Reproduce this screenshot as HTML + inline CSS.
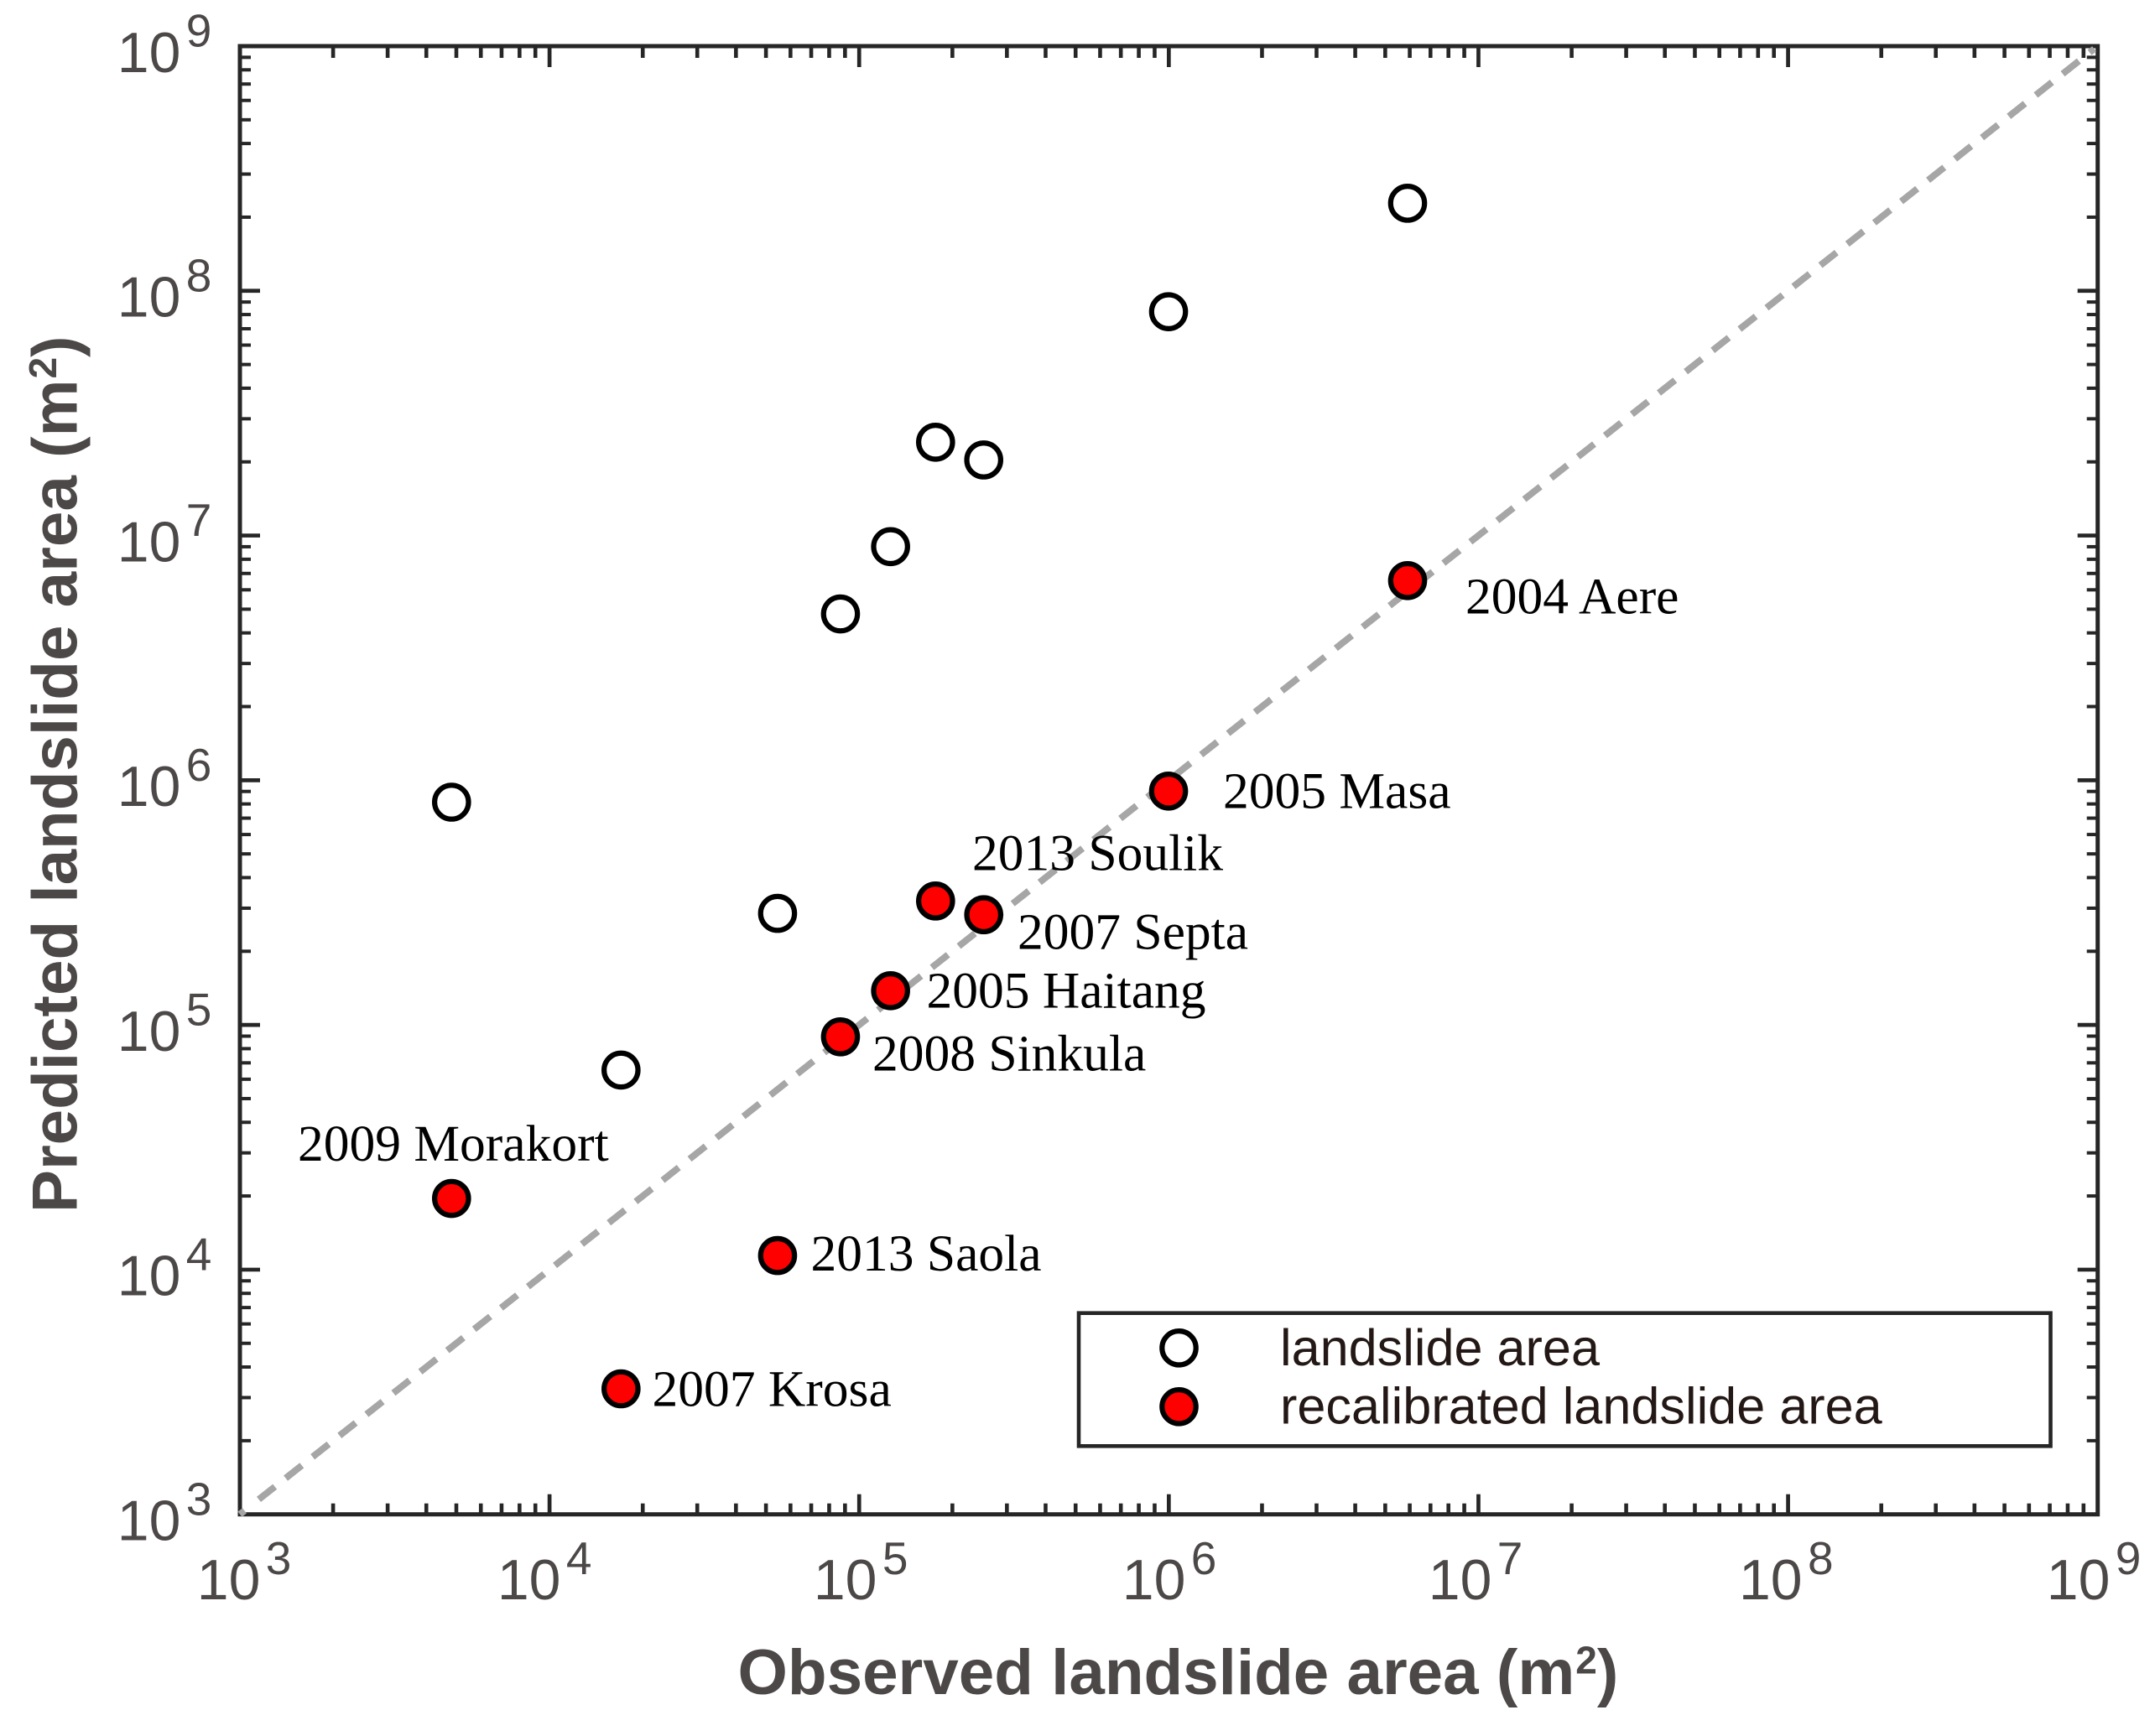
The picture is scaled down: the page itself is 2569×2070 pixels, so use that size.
<!DOCTYPE html>
<html lang="en">
<head>
<meta charset="utf-8">
<title>Observed vs predicted landslide area</title>
<style>
html,body{margin:0;padding:0;background:#fff}
svg{display:block}
.tick-text{font-family:"Liberation Sans",sans-serif;fill:#4d4848}
.axis-title{font-family:"Liberation Sans",sans-serif;font-weight:bold;font-size:76.4px;fill:#4d4848}
.axis-sup{font-size:46px}
.legend-text{font-family:"Liberation Sans",sans-serif;font-size:61.2px;fill:#231815}
.event-label{font-family:"Liberation Serif",serif;font-size:61.5px;fill:#000}
</style>
</head>
<body>
<svg id="chart" xmlns="http://www.w3.org/2000/svg" width="2569" height="2070" viewBox="0 0 2569 2070">
  <rect x="0" y="0" width="2569" height="2070" fill="#fff"/>
  <g id="ticks"></g>
  <rect x="286" y="55" width="2214.7" height="1750.7" fill="none" stroke="#262626" stroke-width="5"/>
  <g id="reference"></g>
  <g id="tick-labels"></g>
  <g id="marks"></g>

  <text class="axis-title" x="879.5" y="2020">Observed landslide area (m<tspan class="axis-sup" dx="1" dy="-24.3">2</tspan><tspan dy="24.3">)</tspan></text>
  <text class="axis-title" transform="translate(91.5,1446) rotate(-90)" x="0" y="0">Predicted landslide area (m<tspan class="axis-sup" dx="1" dy="-24.3">2</tspan><tspan dy="24.3">)</tspan></text>

  <text class="event-label" x="1747" y="731.3">2004 Aere</text>
  <text class="event-label" x="1458" y="963.3">2005 Masa</text>
  <text class="event-label" x="1159" y="1037.3">2013 Soulik</text>
  <text class="event-label" x="1213" y="1131.7">2007 Septa</text>
  <text class="event-label" x="1104.5" y="1201.7">2005 Haitang</text>
  <text class="event-label" x="1040" y="1276.7">2008 Sinkula</text>
  <text class="event-label" x="355" y="1384">2009 Morakort</text>
  <text class="event-label" x="966.5" y="1515">2013 Saola</text>
  <text class="event-label" x="777.5" y="1676.7">2007 Krosa</text>

  <g>
    <rect x="1286" y="1565.7" width="1158.5" height="158.6" fill="#fff" stroke="#262626" stroke-width="4.6"/>
    <circle cx="1405.5" cy="1607.3" r="20.2" fill="#fff" stroke="#000" stroke-width="6.2"/>
    <text class="legend-text" x="1526" y="1628">landslide area</text>
    <circle cx="1405.5" cy="1677.3" r="20.2" fill="#ff0000" stroke="#000" stroke-width="6.2"/>
    <text class="legend-text" x="1526" y="1697.7">recalibrated landslide area</text>
  </g>
</svg>
<script>
// Chart data (areas in m²)
const xExponents = [3, 4, 5, 6, 7, 8, 9];
const yExponents = [3, 4, 5, 6, 7, 8, 9];
const minorMultipliers = [2, 3, 4, 5, 6, 7, 8, 9];
const observedArea = [4825, 17015, 54500, 87020, 126300, 176500, 252500, 998000, 5904000];
const predictedArea = [813600, 65400, 285700, 4782000, 9008000, 24060000, 20360000, 82160000, 228000000];
const recalibratedArea = [19540, 3259, 11420, 89440, 138000, 321000, 282100, 902700, 6545000];
const referenceLine = [1000, 1000000000];

const NS = 'http://www.w3.org/2000/svg';
const PLOT = {left: 286, right: 2500.7, top: 55, bottom: 1805.7};
const LOG_MIN = 3, LOG_MAX = 9;

function xScale(v) {
  return PLOT.left + (Math.log10(v) - LOG_MIN) / (LOG_MAX - LOG_MIN) * (PLOT.right - PLOT.left);
}
function yScale(v) {
  return PLOT.bottom - (Math.log10(v) - LOG_MIN) / (LOG_MAX - LOG_MIN) * (PLOT.bottom - PLOT.top);
}
function make(tag, attrs, parent) {
  const el = document.createElementNS(NS, tag);
  for (const k in attrs) el.setAttribute(k, attrs[k]);
  parent.appendChild(el);
  return el;
}
// The x tick labels sit slightly unevenly under their ticks in the original.
function xLabelOffset(e) {
  switch (e) {
    case 3: return -51.2;
    case 4: return -62.3;
    case 5: return -54.4;
    case 6: return -55.6;
    case 7: return -59.7;
    case 8: return -58.6;
    default: return -60.9;
  }
}

const tickGroup = document.getElementById('ticks');
const labelGroup = document.getElementById('tick-labels');
const refGroup = document.getElementById('reference');
const markGroup = document.getElementById('marks');

function drawXTick(x, len, w) {
  const bottom = make('line', {x1: x, x2: x, y1: PLOT.bottom, y2: PLOT.bottom - len, stroke: '#262626', 'stroke-width': w}, tickGroup);
  
  
  const top = make('line', {x1: x, x2: x, y1: PLOT.top, y2: PLOT.top + len + 1, stroke: '#262626', 'stroke-width': w}, tickGroup);
  
  
}
function drawYTick(y, len, w) {
  const left = make('line', {x1: PLOT.left, x2: PLOT.left + len, y1: y, y2: y, stroke: '#262626', 'stroke-width': w}, tickGroup);
  
  
  const right = make('line', {x1: PLOT.right, x2: PLOT.right - len, y1: y, y2: y, stroke: '#262626', 'stroke-width': w}, tickGroup);
  
  
}

xExponents.forEach(function (e) {
  const base = Math.pow(10, e);
  const x = xScale(base);
  if (e > LOG_MIN && e < LOG_MAX) drawXTick(x, 24, 4.7);
  if (e < LOG_MAX) minorMultipliers.forEach(function (m) { drawXTick(xScale(base * m), 13, 4.6); });
  const offset = xLabelOffset(e);
  const t = make('text', {class: 'tick-text', x: x + offset, y: 1907, 'font-size': 68}, labelGroup);
  t.textContent = '10';
  
  
  const s = make('text', {class: 'tick-text', x: x + offset + 82, y: 1877, 'font-size': 55}, labelGroup);
  s.textContent = String(e);
  
  
});

yExponents.forEach(function (e) {
  const base = Math.pow(10, e);
  const y = yScale(base);
  if (e > LOG_MIN && e < LOG_MAX) drawYTick(y, 24, 4.7);
  if (e < LOG_MAX) minorMultipliers.forEach(function (m) { drawYTick(yScale(base * m), 13, 4); });
  const t = make('text', {class: 'tick-text', x: 139.8, y: y + 30.8, 'font-size': 68}, labelGroup);
  t.textContent = '10';
  
  
  const s = make('text', {class: 'tick-text', x: 221.8, y: y + 0.6, 'font-size': 55}, labelGroup);
  s.textContent = String(e);
  
  
});

// Diagonal: short stubs at both corners, regular dashes in between.
const lineX1 = xScale(referenceLine[0]), lineY1 = yScale(referenceLine[0]);
const lineX2 = xScale(referenceLine[1]), lineY2 = yScale(referenceLine[1]);
const lineLength = Math.hypot(lineX2 - lineX1, lineY2 - lineY1);
const dashPeriod = lineLength / 69, dashOn = 24.5, stubOn = 7;
const dashPattern = [stubOn, dashPeriod - dashOn / 2 - stubOn];
for (let k = 1; k < 69; k++) {
  dashPattern.push(dashOn, dashPeriod - dashOn);
}
dashPattern.push(stubOn, 100);
const diagonal = make('line', {
  x1: lineX1, y1: lineY1, x2: lineX2, y2: lineY2,
  stroke: '#a6a6a6', 'stroke-width': 8,
  'stroke-dasharray': dashPattern.join(' ')
}, refGroup);



observedArea.forEach(function (obs, i) {
  const open = make('circle', {cx: xScale(obs), cy: yScale(predictedArea[i]), r: 20.2, fill: '#fff', stroke: '#000', 'stroke-width': 6.2}, markGroup);
  
  
});
observedArea.forEach(function (obs, i) {
  const red = make('circle', {cx: xScale(obs), cy: yScale(recalibratedArea[i]), r: 20.2, fill: '#ff0000', stroke: '#000', 'stroke-width': 6.2}, markGroup);
  
  
});
</script>
</body>
</html>
